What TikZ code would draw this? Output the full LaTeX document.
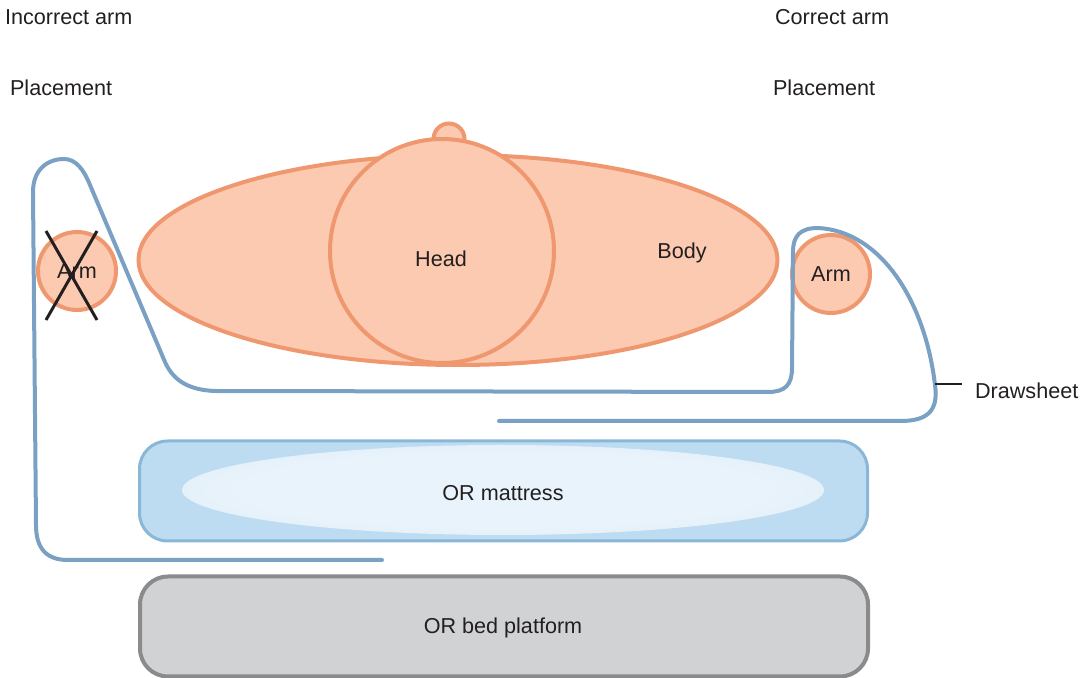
\documentclass[tikz,border=0pt]{standalone}
\usepackage{fontspec}
\setmainfont{Liberation Sans}
\usetikzlibrary{shapes, positioning}
\definecolor{ink}{HTML}{231F20}
\definecolor{skin}{HTML}{FBCAB0}
\definecolor{skinline}{HTML}{EF9870}
\definecolor{sheetline}{HTML}{7AA1C4}
\definecolor{matfill}{HTML}{BDDCF1}
\definecolor{matline}{HTML}{8AB7D7}
\definecolor{sheenin}{HTML}{E9F3FB}
\definecolor{sheenout}{HTML}{D3E8F6}
\definecolor{platfill}{HTML}{D1D2D4}
\definecolor{platline}{HTML}{8A8B8D}
\pgfdeclareradialshading{sheen}{\pgfpoint{0bp}{0bp}}{color(0bp)=(sheenin); color(20bp)=(sheenin); color(49bp)=(sheenout); color(50bp)=(matfill)}

\begin{document}
\begin{tikzpicture}[x=0.5pt, y=-0.5pt,
              every node/.style = {font=\fontsize{10.8}{13}\selectfont, text=ink},
              part/.style = {draw=skinline, fill=skin, line width=2pt, inner sep=0pt},
              sheet/.style = {draw=sheetline, line width=2pt},
              pad/.style = {shape=rectangle, rounded corners=14pt,
                minimum width=364pt, minimum height=50pt}]
  \useasboundingbox (0,0) rectangle (1088,678);
  % titles
  \node[anchor=west] (wrongtop) at (-2,17) {Incorrect arm};
  \node[anchor=west] (wrongsub) at (3,88) {Placement};
  \node[anchor=west] (righttop) at (768,17) {Correct arm};
  \node[anchor=west] (rightsub) at (766,88) {Placement};

  % patient
  \node[part, circle, minimum size=15.5pt] (nub) at (449,139) {};
  \node[part, ellipse, minimum width=319.5pt, minimum height=105pt] (body) at (458,260) {};
  \node[part, circle, minimum size=112pt] (head) at (442,251) {};
  \node (headlbl) at (441,259) {Head};
  \node (bodylbl) at (682,253) {Body};
  \node[part, circle, minimum size=39pt] (armL) at (77,271) {Arm};
  \node[part, circle, minimum size=39pt] (armR) at (831,274) {Arm};

  % table
  \node[pad, draw=matline, fill=matfill, line width=1.5pt] (mattress) at (503.5,491) {};
  \shade[shading=sheen] (503,490) ellipse (321 and 45);
  \node (matlbl) at (503,493) {OR mattress};
  \node[pad, draw=platline, fill=platfill, line width=2pt] (platform) at (504,626.5) {};
  \node (platlbl) at (503,628) {OR bed platform};

  % drawsheet
  \coordinate (sheetA) at (382,560);
  \coordinate (sheetB) at (499,421);
  \draw[sheet, line cap=round] (sheetA) -- (68,560) .. controls (46,560) and (36,548) .. (36,525)
    -- (33,192) .. controls (33,170) and (47,159) .. (64,159)
    .. controls (76,159) and (84,170) .. (90,185)
    -- (165,362) .. controls (173,380) and (188,390) .. (215,391)
    -- (768,392) .. controls (785,392) and (792,385) .. (792,368)
    -- (793,252) .. controls (793,236) and (800,228) .. (818,228)
    .. controls (880,231) and (925,300) .. (935,385)
    .. controls (939,413) and (925,421) .. (900,421)
    -- (sheetB);
  \coordinate (tick) at (935,384);
  \node[anchor=west] (dslbl) at (968,391) {Drawsheet};
  \draw[line width=1pt, ink] (tick) -- ++(27,0);

  % wrong arm
  \draw[line width=1.5pt, ink] (46,231) -- (97,320);
  \draw[line width=1.5pt, ink] (97,231) -- (46,320);
\end{tikzpicture}
\end{document}
